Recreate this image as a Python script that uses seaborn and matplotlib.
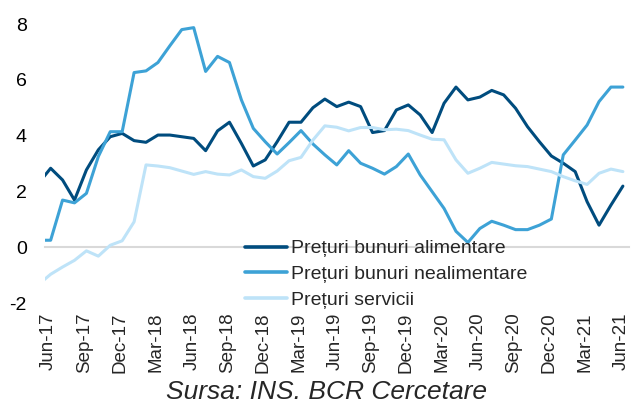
import matplotlib
matplotlib.use("Agg")
import matplotlib.pyplot as plt
import matplotlib.transforms as mtransforms
import seaborn as sns
import numpy as np
import pandas as pd

# monthly data, May-17 .. Jun-21 (first month sits left of the axis and gets clipped)
months = pd.date_range("2017-05-01", "2021-06-01", freq="MS")

food = [2.30, 2.83, 2.41, 1.69, 2.77, 3.49, 3.96, 4.08, 3.82, 3.76,
        4.02, 4.02, 3.96, 3.90, 3.46, 4.17, 4.48, 3.72, 2.91, 3.13,
        3.78, 4.48, 4.48, 5.00, 5.31, 5.04, 5.20, 5.04, 4.11, 4.18,
        4.92, 5.10, 4.74, 4.11, 5.16, 5.74, 5.28, 5.38, 5.62, 5.46,
        4.98, 4.32, 3.78, 3.27, 3.01, 2.71, 1.63, 0.79, 1.51, 2.19]

nonfood = [0.25, 0.25, 1.69, 1.59, 1.93, 3.25, 4.14, 4.14, 6.26, 6.32,
           6.62, 7.22, 7.80, 7.87, 6.30, 6.84, 6.62, 5.28, 4.26, 3.78,
           3.34, 3.75, 4.18, 3.70, 3.31, 2.95, 3.46, 3.01, 2.83, 2.62,
           2.89, 3.34, 2.59, 1.99, 1.39, 0.57, 0.17, 0.67, 0.93, 0.79,
           0.63, 0.63, 0.79, 1.01, 3.31, 3.84, 4.38, 5.22, 5.74, 5.74]

services = [-1.33, -0.97, -0.71, -0.47, -0.13, -0.32, 0.07, 0.23, 0.91, 2.95,
            2.91, 2.85, 2.73, 2.61, 2.71, 2.62, 2.59, 2.77, 2.53, 2.47,
            2.73, 3.10, 3.22, 3.84, 4.35, 4.30, 4.17, 4.29, 4.29, 4.21,
            4.23, 4.18, 4.02, 3.87, 3.85, 3.13, 2.65, 2.83, 3.04, 2.98,
            2.92, 2.89, 2.80, 2.71, 2.53, 2.38, 2.25, 2.65, 2.80, 2.71]

series_names = ["Prețuri bunuri alimentare", "Prețuri bunuri nealimentare", "Prețuri servicii"]
colors = ["#004C7E", "#3DA2D6", "#BEE3F8"]
source = "Sursa: INS. BCR Cercetare"

sns.set_style("white")
plt.rcParams["font.family"] = ["Liberation Sans", "DejaVu Sans"]
plt.rcParams["axes.unicode_minus"] = False

# category axis: month centred between ticks, Jun-17 boundary at 0
pos = np.arange(len(months)) - 1 + 0.5
df = pd.DataFrame({
    "x": np.tile(pos, 3),
    "value": food + nonfood + services,
    "series": np.repeat(series_names, len(months)),
})

fig = plt.figure(figsize=(6.32, 4.07), dpi=100)
ax = fig.add_axes([0.0707, 0.2555, 0.9243, 0.6855])

sns.lineplot(data=df, x="x", y="value", hue="series", hue_order=series_names,
             palette=colors, linewidth=2.2, ax=ax, zorder=3)

ax.set_xlim(0, len(months) - 1)
ax.set_ylim(-2, 8)
ax.set_xlabel("")
ax.set_ylabel("")

tick_idx = np.arange(1, len(months), 3)
tick_pos = tick_idx - 1
tick_labels = [months[i].strftime("%b-%y") for i in tick_idx]

for s in ["top", "right", "left"]:
    ax.spines[s].set_visible(False)
ax.spines["bottom"].set_position(("data", 0))
ax.spines["bottom"].set_color("#D9D9D9")
ax.spines["bottom"].set_linewidth(1.5)
ax.set_xticks(tick_pos)
ax.tick_params(axis="x", direction="out", length=5, width=1.5, color="#D9D9D9",
               labelbottom=False)

ax.set_yticks(range(-2, 9, 2))
ax.tick_params(axis="y", length=0, pad=13, labelsize=14, labelcolor="black")

sec = ax.secondary_xaxis("bottom")
sec.set_xticks(tick_pos, tick_labels)
sec.tick_params(length=0, rotation=90, labelsize=13.5, pad=7)
sec.spines["bottom"].set_visible(False)
shift = mtransforms.ScaledTranslation(4 / 100, 0, fig.dpi_scale_trans)
for lbl in sec.get_xticklabels():
    lbl.set_transform(lbl.get_transform() + shift)

handles, labels = ax.get_legend_handles_labels()
for h in handles:
    h.set_linewidth(2.6)
ax.legend(handles, labels, loc="upper left", bbox_to_anchor=(0.387, 0.411),
          bbox_transform=fig.transFigure, frameon=False, fontsize=14,
          handlelength=2.2, handletextpad=0.2, labelspacing=0.42,
          borderpad=0, borderaxespad=0)

fig.text(0.516, 0.037, source, ha="center", va="center", fontsize=19,
         style="italic")

fig.savefig("out.png", dpi=100)
